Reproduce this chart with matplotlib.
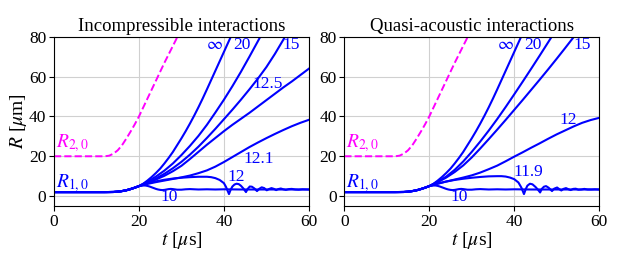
import numpy as np
import matplotlib
matplotlib.use('Agg')
import matplotlib.pyplot as plt

plt.rcParams['font.family'] = ['Liberation Serif', 'DejaVu Serif']
plt.rcParams['mathtext.fontset'] = 'stix'

# shared start (before bubbles interact)
t_pre = [0, 12, 14, 15, 16, 17, 18, 19]
r_pre = [2.0, 2.0, 2.05, 2.2, 2.5, 2.9, 3.5, 4.2]

# second bubble R2 (dashed)
t_r2 = [0, 12, 13, 14, 15, 16, 17, 18, 19, 20, 22, 24, 26, 28, 30]
r_r2 = [20, 20, 20.3, 21.3, 23, 25.5, 28.8, 32.3, 36, 40, 49, 58, 67, 75.5, 84]

# ---------- incompressible ----------
t_inf = [20, 21, 22, 23, 24, 25, 26, 27, 28, 29, 30, 31, 32, 33, 34, 35, 36, 37, 38, 39, 40, 41, 42]
inc_inf = [5, 6.2, 7.8, 9.6, 11.6, 13.8, 16.4, 19.2, 22.2, 25.6, 29, 32.6, 36.4, 40.4, 44.6, 49, 53.6, 58.3, 63, 67.7, 72.4, 77.1, 81.8]

t_2 = [20, 22, 24, 26, 28, 30, 32, 34, 36, 38, 40, 42, 44, 46, 48, 50]
inc_20 = [5, 7.2, 9.8, 12.8, 16.4, 20.6, 25.2, 30.2, 35.8, 42, 48.4, 55.2, 62.4, 70, 77.8, 85.6]

t_15 = [20, 22, 24, 26, 28, 30, 32, 34, 36, 38, 40, 42, 44, 46, 48, 50, 52, 54, 56]
inc_15 = [5, 6.8, 8.8, 11.2, 14, 17.2, 20.8, 24.8, 29.2, 33.8, 38.6, 43.4, 48.4, 53.6, 59, 64.8, 71.4, 78.6, 86]

t_full = [20, 22, 24, 26, 28, 30, 32, 34, 36, 38, 40, 42, 44, 46, 48, 50, 52, 54, 56, 58, 60]
inc_125 = [5, 6.6, 8.3, 10.2, 12.5, 15.2, 18.6, 22.2, 25.8, 29.2, 32.6, 35.8, 38.8, 41.8, 45, 48.2, 51.4, 54.6, 57.6, 60.8, 64]
inc_121 = [5, 6.1, 7.0, 7.8, 8.6, 9.4, 10.3, 11.5, 12.9, 14.8, 17.1, 19.6, 22.1, 24.6, 26.9, 29.1, 31.2, 33.2, 35.1, 36.8, 38.3]

t_inc12 = [20, 22, 24, 26, 28, 30, 32, 34, 36, 37, 38, 39, 40, 40.5, 41.2, 41.6, 42, 42.5, 43, 43.5, 44, 44.6,
           45.2, 45.6, 46.1, 46.6, 47.2, 47.8, 48.3, 48.9, 49.5, 50.1, 50.6, 51.2, 51.8, 52.3, 52.8, 53.4, 54.0,
           54.6, 55.3, 56, 56.8, 57.6, 58.5, 60]
inc_12 = [5, 6.4, 7.4, 8.2, 8.8, 9.2, 9.5, 9.7, 9.7, 9.5, 9.0, 8.1, 6.5, 4.6, 1.0, 3.2, 4.8, 5.8, 6.2, 6.0, 5.2, 3.8,
          2.0, 3.6, 4.8, 4.7, 3.8, 2.5, 3.6, 4.4, 4.0, 2.9, 3.5, 4.0, 3.6, 3.0, 3.5, 3.8, 3.4,
          3.1, 3.5, 3.6, 3.3, 3.2, 3.4, 3.3]

t_10 = [20, 20.5, 21, 21.5, 22, 22.5, 23, 23.5, 24, 24.5, 25, 25.5, 26, 26.5, 27, 27.5, 28, 29, 30, 31, 32, 33, 34,
        36, 38, 40, 44, 50, 60]
inc_10 = [5, 5.2, 5.3, 5.3, 5.1, 4.8, 4.4, 4.0, 3.6, 3.3, 3.1, 3.0, 3.1, 3.3, 3.5, 3.6, 3.5, 3.2, 3.2, 3.4, 3.5, 3.4, 3.3,
          3.4, 3.3, 3.4, 3.3, 3.3, 3.3]

# ---------- quasi-acoustic ----------
qa_inf = [5, 6.2, 7.8, 9.6, 11.6, 13.8, 16.4, 19.2, 22.2, 25.6, 29, 32.6, 36.4, 40.4, 44.6, 49, 53.6, 58.3, 63, 67.7, 72.4, 77.1, 81.8]
qa_20 = [5, 7.2, 9.8, 13.2, 17.4, 22.2, 27.4, 32.9, 38.7, 44.8, 51.1, 57.5, 64, 70.6, 77.3, 84]
qa_15 = [5, 7.0, 9.3, 12.1, 15.4, 19.4, 23.9, 28.6, 33.4, 38.3, 43.3, 48.3, 53.4, 58.5, 63.7, 69, 74.4, 79.9, 85.5]
qa_12 = [5, 6.2, 7.3, 8.3, 9.3, 10.4, 11.8, 13.5, 15.3, 17.5, 19.8, 22, 24.3, 26.5, 28.8, 31, 33, 35, 36.8, 38.2, 39.3]

t_qa119 = [20, 22, 24, 26, 28, 30, 32, 34, 36, 37, 38, 39, 40, 41, 41.7, 42.3, 42.7, 43.1, 43.7, 44.3, 45, 45.6,
           46.1, 46.5, 47, 47.5, 48.1, 48.9, 49.4, 50.1, 50.6, 51.1, 51.6, 52.2, 52.8, 53.3, 53.9, 54.5, 55.1,
           55.8, 56.5, 57.3, 58.2, 59, 60]
qa_119 = [5, 6.3, 7.3, 8.1, 8.7, 9.2, 9.6, 9.9, 10.0, 10.0, 9.8, 9.3, 8.5, 6.8, 4.2, 1.0, 3.4, 5.2, 6.2, 5.9, 4.6, 3.2,
          1.8, 3.6, 4.7, 5.0, 4.2, 2.5, 3.7, 4.3, 3.5, 2.8, 3.6, 4.0, 3.4, 3.0, 3.6, 3.7, 3.2,
          3.3, 3.6, 3.3, 3.3, 3.4, 3.3]
qa_10 = [5, 5.2, 5.3, 5.3, 5.1, 4.8, 4.4, 4.0, 3.6, 3.3, 3.1, 3.0, 3.1, 3.3, 3.5, 3.6, 3.5, 3.2, 3.2, 3.4, 3.5, 3.4, 3.3,
         3.4, 3.3, 3.4, 3.3, 3.3, 3.3]

panels = [
    ("Incompressible interactions",
     [(t_inf, inc_inf), (t_2, inc_20), (t_15, inc_15), (t_full, inc_125), (t_full, inc_121), (t_inc12, inc_12), (t_10, inc_10)],
     [(r"$\infty$", 37.8, 76), ("20", 44.3, 76), ("15", 55.9, 76), ("12.5", 50.2, 56.2),
      ("12.1", 48.1, 18.8), ("12", 42.8, 9.6), ("10", 27.1, -0.5)]),
    ("Quasi-acoustic interactions",
     [(t_inf, qa_inf), (t_2, qa_20), (t_15, qa_15), (t_full, qa_12), (t_qa119, qa_119), (t_10, qa_10)],
     [(r"$\infty$", 38.0, 76), ("20", 44.4, 76), ("15", 56.0, 76), ("12", 52.8, 38.1),
      ("11.9", 43.3, 12.1), ("10", 27.1, -0.5)]),
]

fig = plt.figure(figsize=(6.23, 2.59), dpi=100)
lefts = [0.0867, 0.5527]

for k in range(2):
    title, curves, labels = panels[k]
    ax = fig.add_axes([lefts[k], 0.2046, 0.409, 0.653])
    ax.grid(True, color='#d0d0d0', lw=0.8)
    ax.set_axisbelow(True)
    ax.plot(t_r2, r_r2, color='magenta', ls='--', lw=1.4)
    for tt, rr in curves:
        ax.plot(t_pre + tt, r_pre + rr, color='blue', lw=1.5)
    for txt, x, y in labels:
        ax.text(x, y, txt, color='blue', fontsize=12.5, ha='center', va='center')
    ax.text(0.4, 26.4, r"$R_{2,0}$", color='magenta', fontsize=14, ha='left', va='center')
    ax.text(0.4, 6.3, r"$R_{1,0}$", color='blue', fontsize=14, ha='left', va='center')
    ax.set_xlim(0, 60)
    ax.set_ylim(-5, 80)
    ax.set_xticks([0, 20, 40, 60])
    ax.set_yticks([0, 20, 40, 60, 80])
    ax.tick_params(labelsize=12.5, pad=2)
    ax.set_title(title, fontsize=13.5, pad=4)
    ax.set_xlabel(r"$t$ [$\mu$s]", fontsize=14, labelpad=0)
    if k == 0:
        ax.set_ylabel(r"$R$ [$\mu$m]", fontsize=14, labelpad=0)

fig.savefig('out.png', dpi=100)
